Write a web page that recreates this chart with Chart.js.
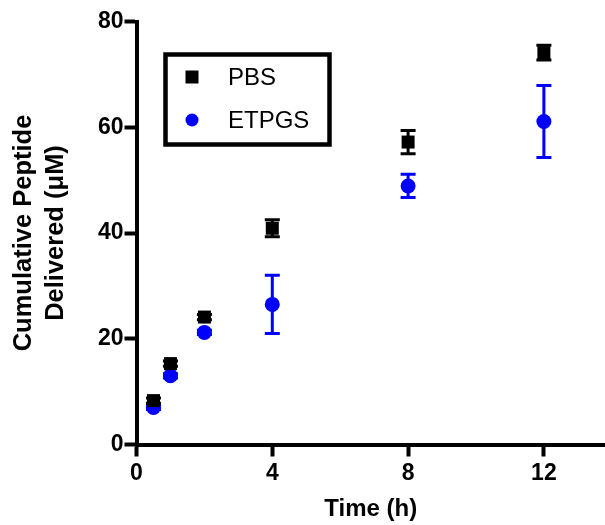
<!DOCTYPE html>
<html>
<head>
<meta charset="utf-8">
<script src="https://cdn.jsdelivr.net/npm/chart.js@4/dist/chart.umd.min.js"></script>
<style>
  html, body { margin: 0; padding: 0; background: #fff; }
  #wrap { width: 605px; height: 525px; }
</style>
</head>
<body>
<div id="wrap"><canvas id="c" width="605" height="525"></canvas></div>
<script>
// ---- data ----
const times       = [0.5, 1, 2, 4, 8, 12];
const pbsMean     = [8.3, 15.3, 24.1, 40.9, 57.2, 74.1];
const pbsErr      = [0.5, 0.5, 0.5, 1.6, 2.2, 1.4];
const etpgsMean   = [7.0, 13.0, 21.2, 26.5, 48.9, 61.1];
const etpgsErr    = [0.4, 0.4, 0.4, 5.5, 2.2, 6.8];
const seriesNames = ['PBS', 'ETPGS'];
const xTickValues = [0, 4, 8, 12];
const yTickValues = [0, 20, 40, 60, 80];
const xTitle = 'Time (h)';
const yTitle = ['Cumulative Peptide', 'Delivered (\u03BCM)'];

const FONT = "'Liberation Sans', Arial, Helvetica, sans-serif";

function pts(xs, ys, es) {
  return xs.map((x, i) => ({ x: x, y: ys[i], err: es[i] }));
}

const errorBars = {
  id: 'errorBars',
  beforeDatasetDraw(chart, args) {
    const ds = chart.data.datasets[args.index];
    const xs = chart.scales.x, ys = chart.scales.y;
    const ctx = chart.ctx;
    ctx.save();
    ctx.strokeStyle = ds.borderColor;
    ctx.lineWidth = 3;
    ctx.lineCap = 'butt';
    ds.data.forEach((d) => {
      const px = xs.getPixelForValue(d.x);
      const top = ys.getPixelForValue(d.y + d.err);
      const bot = ys.getPixelForValue(d.y - d.err);
      const cw = 7.5;
      ctx.beginPath();
      ctx.moveTo(px, top); ctx.lineTo(px, bot);
      ctx.moveTo(px - cw, top); ctx.lineTo(px + cw, top);
      ctx.moveTo(px - cw, bot); ctx.lineTo(px + cw, bot);
      ctx.stroke();
    });
    ctx.restore();
  }
};

const boxLegend = {
  id: 'boxLegend',
  afterDraw(chart) {
    const ctx = chart.ctx;
    ctx.save();
    ctx.lineWidth = 4.5;
    ctx.strokeStyle = '#000';
    ctx.strokeRect(165.5, 54.5, 164, 90);
    const rows = [77, 120];
    chart.data.datasets.forEach((ds, i) => {
      const y = rows[i];
      ctx.fillStyle = ds.backgroundColor;
      if (ds.pointStyle === 'rect') {
        ctx.fillRect(192 - 6.5, y - 6.5, 13, 13);
      } else {
        ctx.beginPath();
        ctx.arc(192, y, 6.5, 0, Math.PI * 2);
        ctx.fill();
      }
      ctx.fillStyle = '#000';
      ctx.font = '24px ' + FONT;
      ctx.textBaseline = 'middle';
      ctx.textAlign = 'left';
      ctx.fillText(ds.label, 228, y + 1);
    });
    ctx.restore();
  }
};

new Chart(document.getElementById('c'), {
  type: 'scatter',
  data: {
    datasets: [
      {
        label: seriesNames[0],
        data: pts(times, pbsMean, pbsErr),
        pointStyle: 'rect',
        pointRadius: 9.2,
        pointHoverRadius: 9.2,
        backgroundColor: '#000000',
        borderColor: '#000000',
        borderWidth: 0,
        showLine: false,
        clip: false
      },
      {
        label: seriesNames[1],
        data: pts(times, etpgsMean, etpgsErr),
        pointStyle: 'circle',
        pointRadius: 7.5,
        pointHoverRadius: 7.5,
        backgroundColor: '#0000FF',
        borderColor: '#0000FF',
        borderWidth: 0,
        showLine: false,
        clip: false
      }
    ]
  },
  options: {
    responsive: false,
    animation: false,
    devicePixelRatio: 1,
    layout: { autoPadding: false, padding: { top: 21.5, right: 0, left: 0, bottom: 0 } },
    plugins: {
      legend: { display: false },
      tooltip: { enabled: false }
    },
    scales: {
      x: {
        type: 'linear',
        min: 0,
        max: 13.8,
        afterFit(s) { s.height = 80.5; s.paddingLeft = 0; s.paddingRight = 0; },
        afterBuildTicks(s) { s.ticks = xTickValues.map(v => ({ value: v })); },
        ticks: {
          color: '#000',
          font: { family: FONT, size: 23, weight: 'bold' },
          padding: 3,
          maxRotation: 0
        },
        grid: {
          display: true,
          drawOnChartArea: false,
          drawTicks: true,
          tickLength: 12,
          tickWidth: 4,
          tickColor: '#000'
        },
        border: { display: true, color: '#000', width: 4 },
        title: {
          display: true,
          text: xTitle,
          color: '#000',
          font: { family: FONT, size: 24, weight: 'bold', lineHeight: 1.2 },
          padding: { top: 0, bottom: 1 }
        }
      },
      y: {
        type: 'linear',
        min: 0,
        max: 80,
        afterFit(s) { s.width = 136.5; s.paddingTop = 0; s.paddingBottom = 0; },
        afterBuildTicks(s) { s.ticks = yTickValues.map(v => ({ value: v })); },
        ticks: {
          color: '#000',
          font: { family: FONT, size: 23, weight: 'bold' },
          padding: 1
        },
        grid: {
          display: true,
          drawOnChartArea: false,
          drawTicks: true,
          tickLength: 12,
          tickWidth: 4,
          tickColor: '#000'
        },
        border: { display: true, color: '#000', width: 4 },
        title: {
          display: true,
          text: yTitle,
          color: '#000',
          font: { family: FONT, size: 25.5, weight: 'bold', lineHeight: 1.255 },
          padding: { top: 8, bottom: 0 }
        }
      }
    }
  },
  plugins: [errorBars, boxLegend]
});
</script>
</body>
</html>
